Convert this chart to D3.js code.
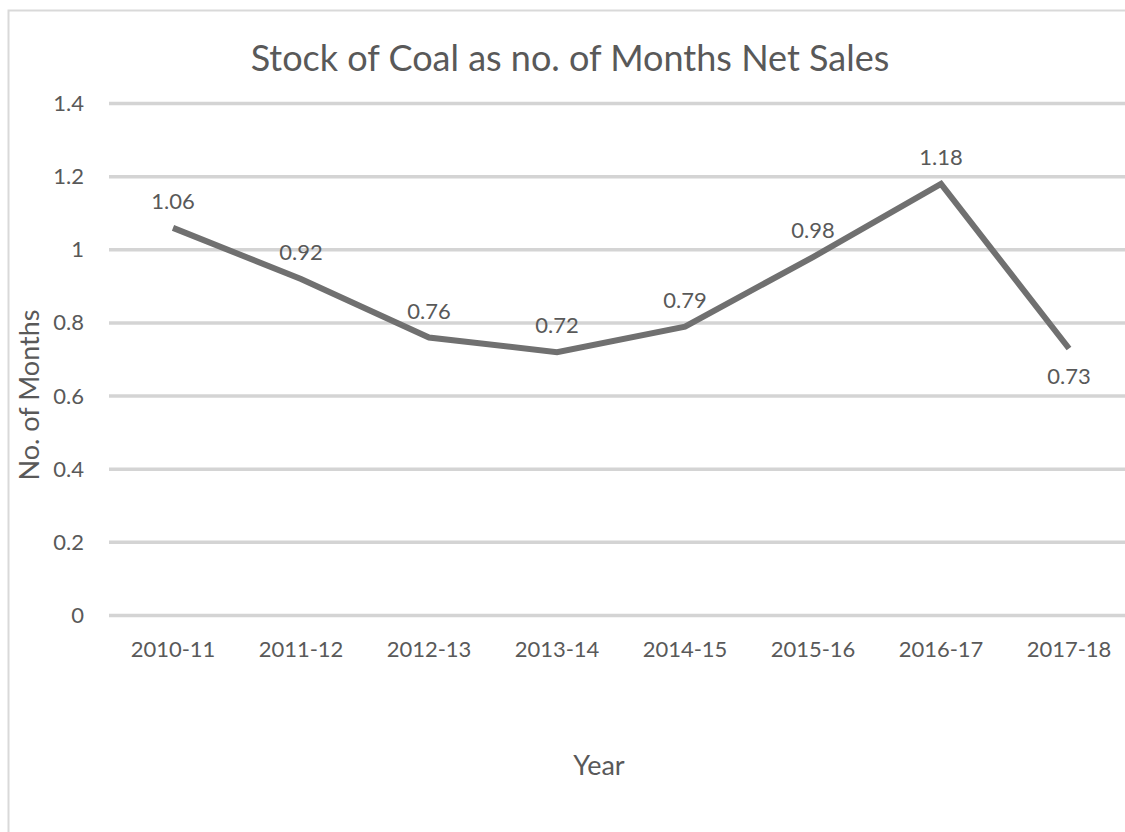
<!DOCTYPE html>
<html>
<head>
<meta charset="utf-8">
<script src="https://cdn.jsdelivr.net/npm/d3@7"></script>
<style>
  body { margin: 0; background: #fff; }
  svg text { font-family: Lato, "Open Sans", sans-serif; fill: #595959; }
</style>
</head>
<body>
<div id="chart"></div>
<script>
// Chart data
const years = ["2010-11", "2011-12", "2012-13", "2013-14", "2014-15", "2015-16", "2016-17", "2017-18"];
const months = [1.06, 0.92, 0.76, 0.72, 0.79, 0.98, 1.18, 0.73];
const yTicks = [0, 0.2, 0.4, 0.6, 0.8, 1, 1.2, 1.4];

const width = 1125;
const height = 832;

const svg = d3.select("#chart")
    .append("svg")
    .attr("width", width)
    .attr("height", height);

// chart area border (runs off the right/bottom edge)
svg.append("rect")
    .attr("x", 8.5)
    .attr("y", 10.5)
    .attr("width", 1140)
    .attr("height", 840)
    .attr("fill", "none")
    .attr("stroke", "#d9d9d9")
    .attr("stroke-width", 2);

const x = d3.scaleBand()
    .domain(years)
    .range([109, 1133]);

const y = d3.scaleLinear()
    .domain([0, 1.4])
    .range([615.5, 103.5]);

// gridlines
svg.append("g")
    .selectAll("line")
    .data(yTicks)
    .enter().append("line")
    .attr("x1", 109)
    .attr("x2", 1133)
    .attr("y1", d => y(d))
    .attr("y2", d => y(d))
    .attr("stroke", "#d4d4d4")
    .attr("stroke-width", 3.5);

// y axis labels
const yAxis = svg.append("g")
    .attr("transform", "translate(109,0)")
    .call(d3.axisLeft(y).tickValues(yTicks).tickSize(0).tickPadding(25).tickFormat(d3.format("~g")));
yAxis.select(".domain").remove();
yAxis.selectAll("text")
    .style("font-size", "22px")
    .style("font-family", "Lato, sans-serif")
    .attr("fill", "#595959");

// x axis labels
const xAxis = svg.append("g")
    .attr("transform", "translate(0,615.5)")
    .call(d3.axisBottom(x).tickSize(0).tickPadding(26));
xAxis.select(".domain").remove();
xAxis.selectAll("text")
    .style("font-size", "22px")
    .style("font-family", "Lato, sans-serif")
    .attr("fill", "#595959");

// the line
const line = d3.line()
    .x((d, i) => x(years[i]) + x.bandwidth() / 2)
    .y(d => y(d));

svg.append("path")
    .datum(months)
    .attr("d", line)
    .attr("fill", "none")
    .attr("stroke", "#707070")
    .attr("stroke-width", 6)
    .attr("stroke-linejoin", "miter");

// data labels
svg.append("g")
    .selectAll("text")
    .data(months)
    .enter().append("text")
    .attr("x", (d, i) => x(years[i]) + x.bandwidth() / 2)
    .attr("y", (d, i) => y(d) + (i === months.length - 1 ? 35 : -19))
    .attr("text-anchor", "middle")
    .style("font-size", "22px")
    .text(d => d);

// title
svg.append("text")
    .attr("x", 570)
    .attr("y", 71)
    .attr("text-anchor", "middle")
    .style("font-size", "36px")
    .text("Stock of Coal as no. of Months Net Sales");

// axis titles
svg.append("text")
    .attr("transform", "translate(39,395) rotate(-90)")
    .attr("text-anchor", "middle")
    .style("font-size", "27px")
    .text("No. of Months");

svg.append("text")
    .attr("x", 599)
    .attr("y", 775)
    .attr("text-anchor", "middle")
    .style("font-size", "27px")
    .text("Year");
</script>
</body>
</html>
